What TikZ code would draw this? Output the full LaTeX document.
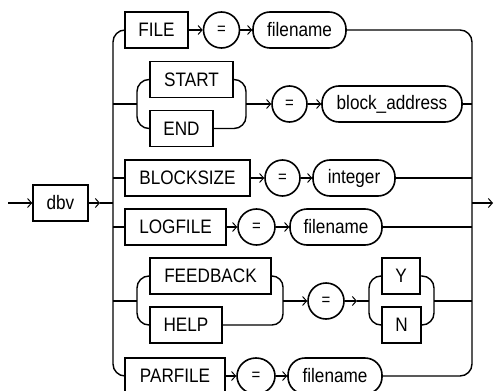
\documentclass[tikz,border=0pt]{standalone}
\usepackage{fontspec}
\setmainfont{Liberation Sans}[FakeStretch=0.88]
\usetikzlibrary{arrows.meta,shapes.geometric}
\tikzset{
  ln/.style={line width=1.4pt},
  arr/.style={-{Straight Barb[length=4pt,width=9pt,line width=1pt]}},
  kw/.style={draw,line width=1.6pt,minimum height=36pt,inner sep=0pt,font=\fontsize{19.5}{19.5}\selectfont},
  var/.style={draw,line width=1.6pt,minimum height=36pt,inner sep=0pt,rounded corners=17pt,font=\fontsize{19.5}{19.5}\selectfont},
  eqn/.style={draw,ellipse,line width=1.6pt,minimum width=36pt,minimum height=36pt,inner sep=0pt,font=\fontsize{17}{17}\selectfont},
}
\begin{document}
\begin{tikzpicture}[x=1pt,y=-1pt]
\useasboundingbox (0,0) rectangle (494,390);
% main
\node[kw,minimum width=55pt] (dbv) at (60.5,203) {dbv};
\coordinate (in) at (8,203);
\coordinate (mid) at (100,203);
\coordinate (tl) at (113,203);
\coordinate (tr) at (472,203);
\coordinate (out) at (493,203);
\draw[ln,arr] (in) -- (dbv.west);
\draw[ln,arr] (dbv.east) -- (mid);
\draw[ln] (mid) -- (tl);
\draw[ln,arr] (tr) -- (out);
% row 1
\node[kw,minimum width=63pt] (file) at (156.5,30) {FILE};
\node[eqn] (eq1) at (221.5,30) {=};
\node[var,minimum width=93pt] (fn1) at (299.5,30) {filename};
% row 2
\node[kw,minimum width=83pt] (start) at (191.5,79.5) {START};
\node[kw,minimum width=63pt] (end) at (181.5,128.5) {END};
\node[eqn,minimum width=35pt] (eq2) at (289.5,104) {=};
\node[var,minimum width=140pt] (ba) at (392,104) {block\_address};
% row 3
\node[kw,minimum width=125pt] (bs) at (187.5,178) {BLOCKSIZE};
\node[eqn,minimum width=35pt] (eq3) at (282.5,178) {=};
\node[var,minimum width=82pt] (int) at (354,178) {integer};
% row 4
\node[kw,minimum width=101pt] (log) at (175.5,227) {LOGFILE};
\node[eqn,minimum width=37pt] (eq4) at (256.5,227) {=};
\node[var,minimum width=92pt] (fn4) at (336,227) {filename};
% row 5
\node[kw,minimum width=121pt] (fb) at (210.5,276) {FEEDBACK};
\node[kw,minimum width=72pt] (help) at (186,325) {HELP};
\node[eqn] (eq5) at (326,301) {=};
\node[kw,minimum width=38pt] (y) at (401,276) {Y};
\node[kw,minimum width=39pt] (n) at (401.5,325) {N};
% row 6
\node[kw,minimum width=100pt] (par) at (175,376) {PARFILE};
\node[eqn,minimum width=38pt] (eq6) at (256,376) {=};
\node[var,minimum width=94pt] (fn6) at (335,376) {filename};

% trunks
\draw[ln,rounded corners=12pt] (file.west) -- (113,30) -- (113,376) -- (par.west);
\draw[ln,rounded corners=12pt] (fn1.east) -- (472,30) -- (472,376) -- (fn6.east);
% row 1
\draw[ln,arr] (file.east) -- (eq1.west);
\draw[ln,arr] (eq1.east) -- (fn1.west);
% row 2
\coordinate (b2l) at (137,104);
\coordinate (b2r) at (246,104);
\draw[ln] (113,104) -- (b2l);
\draw[ln,rounded corners=12pt] (start.west) -- (137,79.5) -- (137,128.5) -- (end.west);
\draw[ln,rounded corners=12pt] (start.east) -- (246,79.5) -- (246,128.5) -- (end.east);
\draw[ln,arr] (b2r) -- (eq2.west);
\draw[ln,arr] (eq2.east) -- (ba.west);
\draw[ln] (ba.east) -- (472,104);
% row 3
\draw[ln] (113,178) -- (bs.west);
\draw[ln,arr] (bs.east) -- (eq3.west);
\draw[ln,arr] (eq3.east) -- (int.west);
\draw[ln] (int.east) -- (472,178);
% row 4
\draw[ln] (113,227) -- (log.west);
\draw[ln,arr] (log.east) -- (eq4.west);
\draw[ln,arr] (eq4.east) -- (fn4.west);
\draw[ln] (fn4.east) -- (472,227);
% row 5
\coordinate (b5l) at (137,301);
\coordinate (b5r) at (283,301);
\coordinate (b5m) at (357,301);
\coordinate (b5y) at (369,301);
\coordinate (b5z) at (434,301);
\draw[ln] (113,301) -- (b5l);
\draw[ln,rounded corners=12pt] (fb.west) -- (137,276) -- (137,325) -- (help.west);
\draw[ln,rounded corners=11pt] (fb.east) -- (283,276) -- (283,325) -- (help.east);
\draw[ln,arr] (b5r) -- (eq5.west);
\draw[ln,arr] (eq5.east) -- (b5m);
\draw[ln] (b5m) -- (b5y);
\draw[ln,rounded corners=12pt] (y.west) -- (369,276) -- (369,325) -- (n.west);
\draw[ln,rounded corners=12pt] (y.east) -- (434,276) -- (434,325) -- (n.east);
\draw[ln] (b5z) -- (472,301);
% row 6
\draw[ln,arr] (par.east) -- (eq6.west);
\draw[ln,arr] (eq6.east) -- (fn6.west);
\end{tikzpicture}
\end{document}
